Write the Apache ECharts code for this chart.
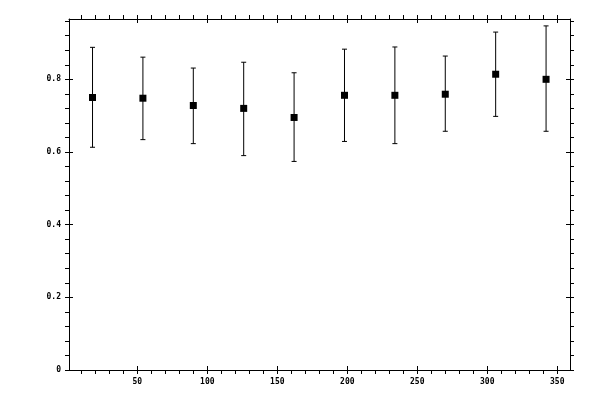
<!DOCTYPE html>
<html>
<head>
    <meta charset="utf-8">
    <title>error bars</title>
    <script type="text/javascript" src="https://cdn.jsdelivr.net/npm/echarts@6/dist/echarts.min.js"></script>
    <style>
        html, body { margin: 0; padding: 0; background: #fff; }
    </style>
</head>
<body>
    <div id="main" style="width: 600px;height:400px;"></div>
    <script type="text/javascript">
        // data
        var xValues = [18, 54, 90, 126, 162, 198, 234, 270, 306, 342];
        var yValues = [0.750, 0.748, 0.728, 0.720, 0.695, 0.756, 0.756, 0.759, 0.814, 0.800];
        var yHigh   = [0.888, 0.861, 0.831, 0.847, 0.818, 0.883, 0.889, 0.864, 0.930, 0.947];
        var yLow    = [0.613, 0.634, 0.623, 0.590, 0.574, 0.629, 0.623, 0.657, 0.698, 0.657];

        // tick labels / tick positions
        var xTickLabels = [50, 100, 150, 200, 250, 300, 350];
        var xAllTicks = [10, 20, 30, 40, 50, 60, 70, 80, 90, 100, 110, 120, 130, 140, 150, 160, 170, 180,
                         190, 200, 210, 220, 230, 240, 250, 260, 270, 280, 290, 300, 310, 320, 330, 340, 350];
        var yTickLabels = [0, 0.2, 0.4, 0.6, 0.8];
        var yAllTicks = [0, 0.04, 0.08, 0.12, 0.16, 0.2, 0.24, 0.28, 0.32, 0.36, 0.4, 0.44, 0.48, 0.52,
                         0.56, 0.6, 0.64, 0.68, 0.72, 0.76, 0.8, 0.84, 0.88, 0.92, 0.96];

        var xMin = 1.2, xMax = 359.1;
        var yMin = 0, yMax = 0.966;

        var myChart = echarts.init(document.getElementById('main'));

        var labelStyle = {
            color: '#000',
            fontFamily: 'DejaVu Sans Mono',
            fontWeight: 'bold',
            fontSize: 8
        };

        // one axis per tick set: outside ticks (all), inside ticks (majors only)
        function makeAxis(pos, ticks, inside, labels, margin, showLine) {
            return {
                type: 'value',
                position: pos,
                min: pos == 'bottom' || pos == 'top' ? xMin : yMin,
                max: pos == 'bottom' || pos == 'top' ? xMax : yMax,
                splitLine: { show: false },
                axisLine: { show: showLine, onZero: false, lineStyle: { color: '#000', width: 1 } },
                axisTick: {
                    show: true,
                    inside: inside,
                    length: 4,
                    customValues: ticks,
                    lineStyle: { color: '#000', width: 1 }
                },
                axisLabel: labels ? Object.assign({
                    show: true,
                    margin: margin,
                    customValues: labels
                }, labelStyle) : { show: false }
            };
        }

        var errData = [];
        var pointData = [];
        for (var i = 0; i < xValues.length; i++) {
            errData.push([xValues[i], yLow[i], yHigh[i]]);
            pointData.push([xValues[i], yValues[i]]);
        }

        var option = {
            animation: false,
            backgroundColor: '#fff',
            grid: { left: 69, right: 30, top: 19, bottom: 30 },
            xAxis: [
                makeAxis('bottom', xAllTicks, false, xTickLabels, 8, true),
                makeAxis('bottom', xTickLabels, true, null, 0, false),
                makeAxis('top', xAllTicks, false, null, 0, true),
                makeAxis('top', xTickLabels, true, null, 0, false)
            ],
            yAxis: [
                makeAxis('left', yAllTicks, false, yTickLabels, 8, true),
                makeAxis('left', yTickLabels, true, null, 0, false),
                makeAxis('right', yAllTicks, false, null, 0, true),
                makeAxis('right', yTickLabels, true, null, 0, false)
            ],
            series: [
                {
                    type: 'custom',
                    xAxisIndex: 0,
                    yAxisIndex: 0,
                    data: errData,
                    renderItem: function (params, api) {
                        var x = api.value(0);
                        var lo = api.coord([x, api.value(1)]);
                        var hi = api.coord([x, api.value(2)]);
                        var cap = 2.5;
                        var st = { stroke: '#000', lineWidth: 1 };
                        return {
                            type: 'group',
                            children: [
                                { type: 'line', shape: { x1: lo[0], y1: lo[1], x2: hi[0], y2: hi[1] }, style: st },
                                { type: 'line', shape: { x1: hi[0] - cap, y1: hi[1], x2: hi[0] + cap, y2: hi[1] }, style: st },
                                { type: 'line', shape: { x1: lo[0] - cap, y1: lo[1], x2: lo[0] + cap, y2: lo[1] }, style: st }
                            ]
                        };
                    },
                    z: 2
                },
                {
                    type: 'scatter',
                    xAxisIndex: 0,
                    yAxisIndex: 0,
                    symbol: 'rect',
                    symbolSize: 7,
                    itemStyle: { color: '#000', opacity: 1 },
                    data: pointData,
                    z: 3
                }
            ]
        };
        myChart.setOption(option);
    </script>
</body>
</html>
